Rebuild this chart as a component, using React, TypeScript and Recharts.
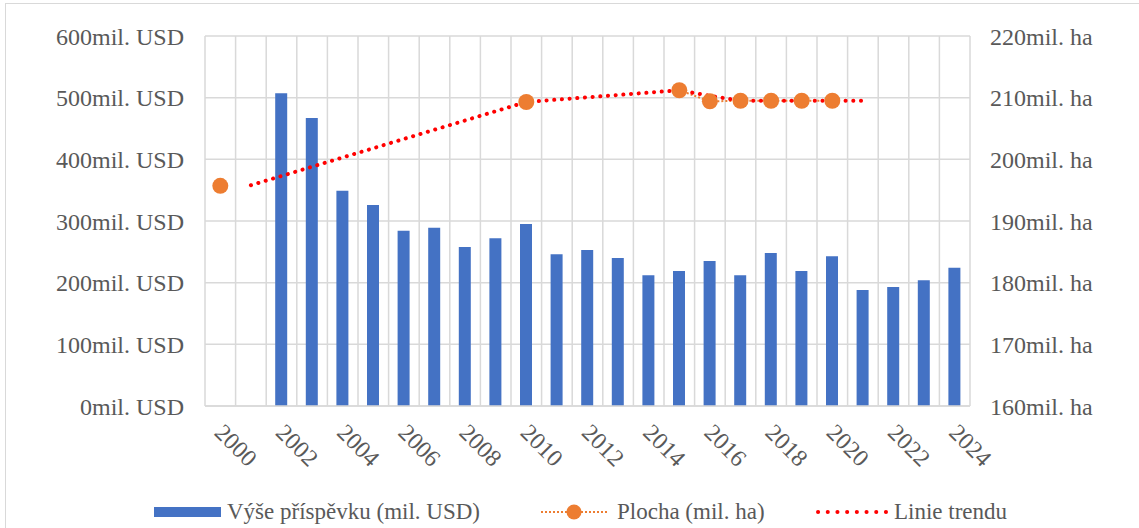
import React from 'react';
import { ComposedChart, Bar, Line, XAxis, YAxis, CartesianGrid, Legend } from 'recharts';

const years = [
  '2000', '2001', '2002', '2003', '2004', '2005', '2006', '2007', '2008', '2009',
  '2010', '2011', '2012', '2013', '2014', '2015', '2016', '2017', '2018', '2019',
  '2020', '2021', '2022', '2023', '2024',
];

// výše příspěvku, mil. USD
const contribution = [
  null, null, 507, 467, 349, 326, 284, 289, 258, 272,
  295, 246, 253, 240, 212, 219, 235, 212, 248, 219,
  243, 188, 193, 204, 224,
];

// plocha, mil. ha
const area = [
  195.7, null, null, null, null, null, null, null, null, null,
  209.3, null, null, null, null, 211.2, 209.4, 209.5, 209.5, 209.5,
  209.5, null, null, null, null,
];

// linie trendu
const trend = [
  null, 195.8, null, null, null, null, null, null, null, null,
  209.3, null, null, null, null, 211.2, 210.3, 209.5, 209.5, 209.5,
  209.5, 209.5, null, null, null,
];

const usdTicks = [0, 100, 200, 300, 400, 500, 600];
const haTicks = [160, 170, 180, 190, 200, 210, 220];

const data = years.map((year, i) => ({
  year,
  contribution: contribution[i],
  area: area[i],
  trend: trend[i],
}));

const FONT = '"Liberation Serif", serif';
const TEXT = '#595959';
const GRID = '#d9d9d9';

const YearTick = ({ x, y, payload }: any) => (
  <text
    x={x - 7}
    y={y + 20}
    transform={`rotate(45 ${x - 7} ${y + 20})`}
    textAnchor="start"
    fontFamily={FONT}
    fontSize={24}
    fill={TEXT}
  >
    {payload.value}
  </text>
);

const ChartLegend = () => (
  <div style={{ position: 'relative', height: 52, fontFamily: FONT, fontSize: 23, color: TEXT }}>
    <div style={{ position: 'absolute', left: 154, top: 31, width: 67, height: 10, background: '#4472c4' }} />
    <div style={{ position: 'absolute', left: 227, top: 22, lineHeight: '28px' }}>Výše příspěvku (mil. USD)</div>
    <svg style={{ position: 'absolute', left: 539, top: 24 }} width={72} height={24}>
      <line x1={2} y1={12} x2={68} y2={12} stroke="#ed7d31" strokeWidth={2} strokeDasharray="2 2" />
      <circle cx={35} cy={12} r={7.5} fill="#ed7d31" />
    </svg>
    <div style={{ position: 'absolute', left: 617, top: 22, lineHeight: '28px' }}>Plocha (mil. ha)</div>
    <svg style={{ position: 'absolute', left: 815, top: 24 }} width={74} height={24}>
      <line x1={3} y1={12} x2={71} y2={12} stroke="#ff0000" strokeWidth={4} strokeDasharray="0.1 9.6" strokeLinecap="round" />
    </svg>
    <div style={{ position: 'absolute', left: 894, top: 22, lineHeight: '28px' }}>Linie trendu</div>
  </div>
);

export default function App() {
  return (
    <div style={{ position: 'absolute', left: 0, top: 0, width: 1139, height: 528, background: '#fff', overflow: 'hidden' }}>
      <div style={{ position: 'absolute', left: 5, top: 3, width: 1150, height: 540, border: `1.5px solid ${GRID}` }} />
      <div style={{ position: 'absolute', left: 0, top: 0 }}>
        <ComposedChart width={1139} height={528} data={data} margin={{ top: 36, right: 0, left: 0, bottom: 0 }}>
          <CartesianGrid
            yAxisId="usd"
            stroke={GRID}
            strokeWidth={1.5}
            verticalCoordinatesGenerator={({ offset }: any) =>
              Array.from({ length: years.length + 1 }, (_, i) => offset.left + (i * offset.width) / years.length)
            }
          />
          <XAxis
            dataKey="year"
            interval={1}
            height={70}
            tickLine={false}
            axisLine={{ stroke: GRID, strokeWidth: 1.5 }}
            tick={<YearTick />}
          />
          <YAxis
            yAxisId="usd"
            orientation="left"
            width={205}
            domain={[0, 600]}
            ticks={usdTicks}
            tickLine={false}
            axisLine={false}
            tickMargin={15}
            tickFormatter={(v: number) => `${v}mil. USD`}
            tick={{ fontFamily: FONT, fontSize: 24, fill: TEXT }}
          />
          <YAxis
            yAxisId="ha"
            orientation="right"
            width={169}
            domain={[160, 220]}
            ticks={haTicks}
            tickLine={false}
            axisLine={false}
            tickMargin={14}
            tickFormatter={(v: number) => `${v}mil. ha`}
            tick={{ fontFamily: FONT, fontSize: 24, fill: TEXT, textAnchor: 'start' }}
          />
          <Legend verticalAlign="bottom" height={52} content={<ChartLegend />} wrapperStyle={{ left: 0, width: 1139 }} />
          <Bar
            yAxisId="usd"
            dataKey="contribution"
            name="Výše příspěvku (mil. USD)"
            fill="#4472c4"
            barSize={12}
            isAnimationActive={false}
          />
          <Line
            yAxisId="ha"
            dataKey="area"
            name="Plocha (mil. ha)"
            stroke="#ed7d31"
            strokeWidth={2}
            strokeDasharray="2 2"
            dot={{ r: 8, fill: '#ed7d31', stroke: 'none' }}
            activeDot={false}
            isAnimationActive={false}
          />
          <Line
            yAxisId="ha"
            dataKey="trend"
            name="Linie trendu"
            type="linear"
            connectNulls
            stroke="#ff0000"
            strokeWidth={4}
            strokeDasharray="0.1 7.6"
            strokeLinecap="round"
            dot={false}
            activeDot={false}
            isAnimationActive={false}
          />
        </ComposedChart>
      </div>
    </div>
  );
}
